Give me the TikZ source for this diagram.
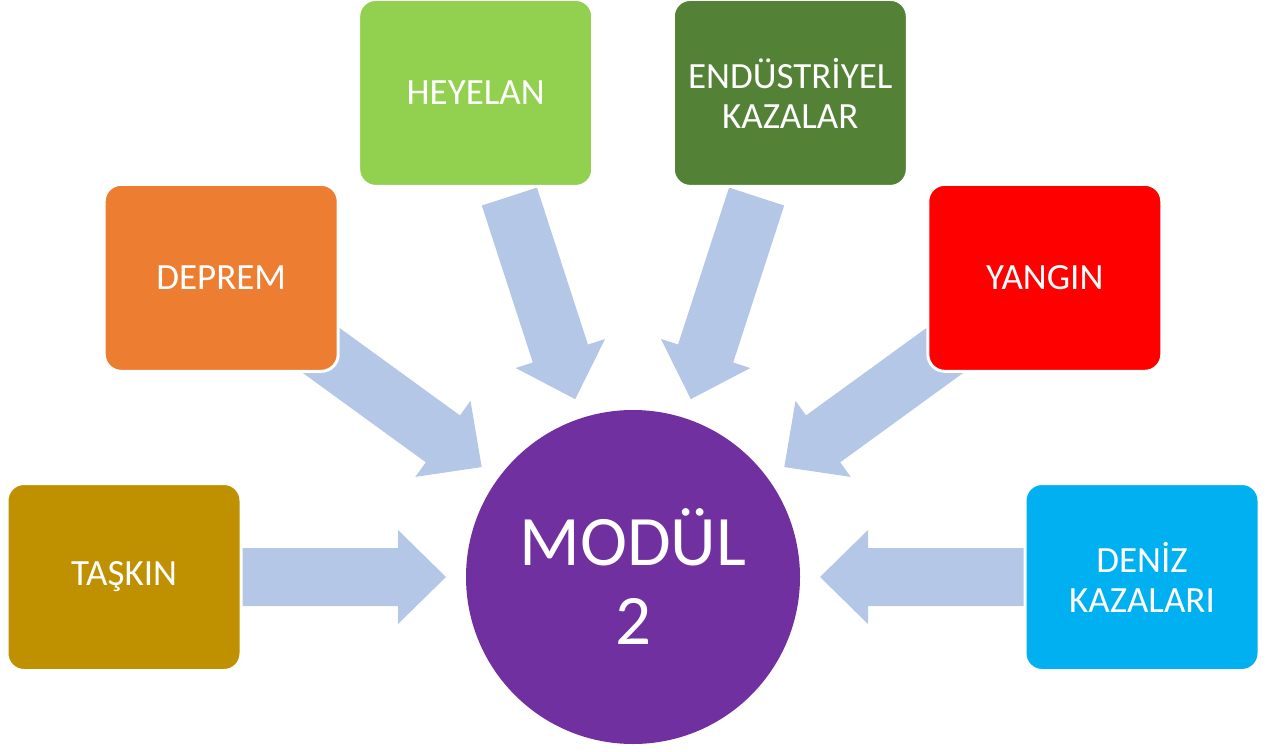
\documentclass[tikz,border=0pt]{standalone}
\usepackage{fontspec}
\setmainfont{Carlito}

\definecolor{taskinrenk}{HTML}{BF9000}
\definecolor{depremrenk}{HTML}{ED7D31}
\definecolor{heyelanrenk}{HTML}{92D050}
\definecolor{endustrirenk}{HTML}{538135}
\definecolor{yanginrenk}{HTML}{FF0000}
\definecolor{denizrenk}{HTML}{00B0F0}
\definecolor{modulrenk}{HTML}{7030A0}
\definecolor{okrenk}{HTML}{B4C7E7}

\begin{document}
\begin{tikzpicture}[x=0.5pt,y=0.5pt,
  kutu/.style={rectangle, rounded corners=8.5pt, draw=white, line width=1.5pt,
    minimum width=117pt, minimum height=93.5pt, inner sep=0pt,
    text=white, align=center, font=\fontsize{18.5}{20}\selectfont},
  akis/.style={fill=okrenk, draw=none}]

\useasboundingbox (0,0) rectangle (1267,751);

%% center
\node[circle, fill=modulrenk, minimum size=167pt, inner sep=0pt, text=white,
  align=center, font=\fontsize{35.5}{39.5}\selectfont] (modul) at (633,174) {MODÜL\\2};

%% arrows
\foreach \a in {180,144,108,72,36,0}
  \fill[akis, shift={(modul.center)}, rotate=\a] (187,0) -- (235,47) -- (235,29) -- (400,29)
    -- (400,-29) -- (235,-29) -- (235,-47) -- cycle;

%% boxes
\node[kutu, fill=taskinrenk] (taskin) at ([shift={(180:509)}]modul.center) {TAŞKIN};   %% 180
\node[kutu, fill=depremrenk] (deprem) at ([shift={(144:509)}]modul.center) {DEPREM};   %% 144
\node[kutu, fill=heyelanrenk] (heyelan) at ([shift={(108:509)}]modul.center) {HEYELAN};   %% 108
\node[kutu, fill=endustrirenk] (endustri) at ([shift={(72:509)}]modul.center) {ENDÜSTRİYEL\\KAZALAR};   %% 72
\node[kutu, fill=yanginrenk] (yangin) at ([shift={(36:509)}]modul.center) {YANGIN};   %% 36
\node[kutu, fill=denizrenk] (deniz) at ([shift={(0:509)}]modul.center) {DENİZ\\KAZALARI};   %% 0
\end{tikzpicture}
\end{document}
